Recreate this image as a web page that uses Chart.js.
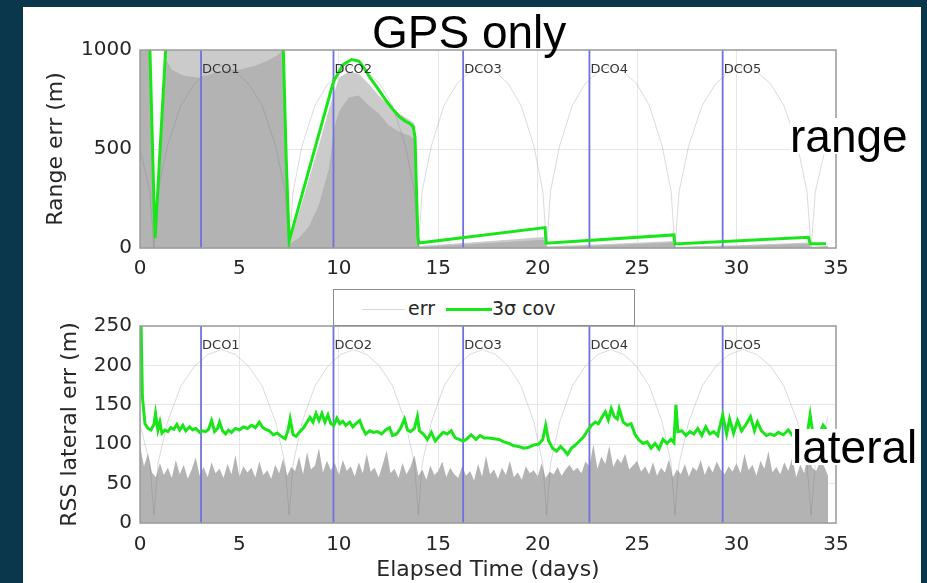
<!DOCTYPE html>
<html>
<head>
<meta charset="utf-8">
<script src="https://cdn.jsdelivr.net/npm/chart.js@4.4.1/dist/chart.umd.min.js"></script>
<style>
  html, body { margin: 0; padding: 0; }
  body { width: 927px; height: 583px; background: #0a374b; position: relative; overflow: hidden; font-family: "DejaVu Sans", sans-serif; }
  #panel { position: absolute; left: 23px; top: 7px; width: 898px; height: 576px; background: #fff; }
  canvas { position: absolute; left: 0; }
  #cRange { top: 0; }
  #cLat { top: 290px; }
  .big { position: absolute; font-family: "Liberation Sans", Arial, sans-serif; font-size: 46px; line-height: 36px; color: #000; white-space: nowrap; }
  #title { left: 372px; top: 14px; }
  #lblRange { left: 790px; top: 118px; background: #fff; }
  #lblLat { left: 792px; top: 429px; background: #fff; }
  #legend { position: absolute; left: 333px; top: 289px; width: 300px; height: 35px; border: 1px solid #8c8c8c; background: #fff; }
  #legend .ln { position: absolute; top: 19px; height: 0; }
  #legend .tx { position: absolute; top: 8px; font-size: 19px; line-height: 20px; color: #262626; }
</style>
</head>
<body>
<div id="panel"></div>
<canvas id="cRange" width="927" height="290"></canvas>
<canvas id="cLat" width="927" height="293"></canvas>
<div id="legend">
  <div class="ln" style="left:28px;width:43px;border-top:1px solid #d6d6d6"></div>
  <div class="tx" style="left:74px">err</div>
  <div class="ln" style="left:112px;width:46px;border-top:3px solid #19e619;top:18px"></div>
  <div class="tx" style="left:158px">3σ cov</div>
</div>
<div class="big" id="title">GPS only</div>
<div class="big" id="lblRange">range</div>
<div class="big" id="lblLat">lateral</div>
<script>
// DCO manoeuvres (days)
const dcoDays = [3.07, 9.73, 16.25, 22.6, 29.3];
const dcoLabels = ['DCO1', 'DCO2', 'DCO3', 'DCO4', 'DCO5'];

// range: 3 sigma covariance
const rangeCovT = [0.45, 0.6, 0.7, 0.76, 0.85, 1.0, 1.15, 1.35, 1.36, 7.14, 7.15, 7.25, 7.35, 7.5, 9.73, 10.2, 10.64, 11.0, 11.3, 11.57, 12.0, 12.4, 12.8, 13.07, 13.35, 13.58, 13.74, 13.83, 13.9, 13.97, 14.02, 20.37, 20.42, 26.85, 26.9, 33.62, 33.7, 34.5];
const rangeCov  = [1190, 620, 240, 50, 211, 480, 750, 1108, null, null, 1220, 840, 460, 35, 840, 925, 952, 944, 905, 860, 800, 741, 690, 660, 640, 628, 612, 560, 300, 60, 25, 103, 24, 66, 20, 54, 21, 22];

// range: error traces (dense core and sparse outer envelope)
const rangeCoreT = [0, 0.45, 0.6, 0.7, 0.76, 0.85, 1.0, 1.15, 1.33, 1.6, 2.2, 3.0, 3.6, 4.4, 5.0, 5.8, 6.5, 7.0, 7.15, 7.25, 7.35, 7.5, 8.0, 8.5, 9.0, 9.5, 9.75, 10.0, 10.5, 11.0, 11.5, 12.0, 12.5, 13.0, 13.5, 13.8, 13.9, 13.97, 14.05, 17.0, 20.3, 20.42, 23.5, 26.85, 26.92, 30.0, 33.6, 33.72, 34.6];
const rangeCore  = [1000, 1000, 590, 210, 30, 190, 450, 720, 950, 900, 870, 860, 880, 900, 900, 920, 950, 980, 1000, 800, 420, 20, 50, 110, 220, 400, 600, 690, 760, 770, 720, 680, 620, 590, 570, 550, 350, 40, 5, 22, 42, 5, 14, 28, 4, 10, 22, 4, 8];
const rangeOuterT = [0, 0.45, 0.6, 0.7, 0.76, 0.85, 1.0, 1.15, 1.33, 7.15, 7.25, 7.35, 7.5, 8.0, 8.5, 9.0, 9.5, 10.0, 10.5, 11.0, 11.5, 12.0, 12.5, 13.0, 13.5, 13.8, 13.9, 13.97, 14.05, 17.0, 20.3, 20.42, 23.5, 26.85, 26.92, 30.0, 33.6, 33.72, 34.6];
const rangeOuter  = [1000, 1000, 600, 220, 35, 200, 460, 730, 1000, 1000, 800, 420, 30, 180, 350, 520, 700, 860, 890, 880, 830, 770, 720, 680, 650, 630, 400, 50, 10, 30, 55, 8, 20, 35, 6, 14, 28, 6, 10];

// reference arcs (light grey traces)
const arcT = [0, 0.5, 0.7, 0.9, 1.38, 2.06, 2.74, 3.42, 4.1, 4.78, 5.46, 6.14, 6.82, 7.3, 7.5, 7.7, 8.15, 8.8, 9.45, 10.1, 10.75, 11.4, 12.05, 12.7, 13.35, 13.8, 14.0, 14.19, 14.65, 15.29, 15.94, 16.58, 17.23, 17.87, 18.52, 19.16, 19.81, 20.26, 20.45, 20.64, 21.1, 21.74, 22.39, 23.03, 23.68, 24.32, 24.97, 25.61, 26.26, 26.71, 26.9, 27.11, 27.59, 28.27, 28.96, 29.64, 30.33, 31.01, 31.7, 32.38, 33.07, 33.54, 33.75, 33.96, 34.6];
const arcRange = [500, 285, 0,
  285, 515, 720, 830, 890, 920, 890, 830, 720, 515, 285, 0,
  285, 515, 720, 830, 890, 920, 890, 830, 720, 515, 285, 0,
  285, 515, 720, 830, 890, 920, 890, 830, 720, 515, 285, 0,
  285, 515, 720, 830, 890, 920, 890, 830, 720, 515, 285, 0,
  285, 515, 720, 830, 890, 920, 890, 830, 720, 515, 285, 0,
  285, 560];
const arcLat = [125, 75, 10,
  75, 128, 174, 199, 214, 220, 214, 199, 174, 128, 75, 10,
  75, 128, 174, 199, 214, 220, 214, 199, 174, 128, 75, 10,
  75, 128, 174, 199, 214, 220, 214, 199, 174, 128, 75, 10,
  75, 128, 174, 199, 214, 220, 214, 199, 174, 128, 75, 10,
  75, 128, 174, 199, 214, 220, 214, 199, 174, 128, 75, 10,
  75, 135];

// lateral: 3 sigma covariance
const latCovT = [0.02, 0.12, 0.25, 0.4, 0.55, 0.7, 0.78, 0.9, 1.0, 1.1, 1.25, 1.4, 1.55, 1.7, 1.85, 2.0, 2.15, 2.3, 2.5, 2.65, 2.8, 3.0, 3.15, 3.3, 3.45, 3.6, 3.75, 3.9, 4.0, 4.15, 4.3, 4.45, 4.6, 4.8, 5.0, 5.2, 5.4, 5.6, 5.8, 6.0, 6.15, 6.3, 6.5, 6.7, 6.9, 7.1, 7.3, 7.45, 7.55, 7.7, 7.85, 8.0, 8.2, 8.4, 8.55, 8.7, 8.85, 9.0, 9.15, 9.3, 9.45, 9.6, 9.75, 9.9, 10.05, 10.2, 10.35, 10.55, 10.7, 10.9, 11.05, 11.2, 11.35, 11.55, 11.75, 11.95, 12.15, 12.35, 12.55, 12.7, 12.9, 13.1, 13.3, 13.45, 13.6, 13.8, 13.95, 14.05, 14.25, 14.45, 14.65, 14.85, 15.05, 15.25, 15.45, 15.65, 15.85, 16.05, 16.25, 16.45, 16.65, 16.9, 17.1, 17.3, 17.55, 17.8, 18.05, 18.3, 18.55, 18.8, 19.05, 19.3, 19.55, 19.8, 20.05, 20.25, 20.4, 20.55, 20.75, 20.95, 21.15, 21.35, 21.5, 21.7, 21.9, 22.1, 22.3, 22.5, 22.7, 22.9, 23.05, 23.2, 23.4, 23.55, 23.7, 23.85, 24.0, 24.1, 24.3, 24.5, 24.7, 24.9, 25.1, 25.3, 25.5, 25.7, 25.9, 26.1, 26.3, 26.5, 26.7, 26.85, 26.95, 27.05, 27.25, 27.45, 27.65, 27.85, 28.05, 28.25, 28.45, 28.65, 28.85, 29.05, 29.3, 29.5, 29.65, 29.85, 30.05, 30.25, 30.45, 30.7, 30.9, 31.05, 31.25, 31.5, 31.7, 31.9, 32.1, 32.35, 32.6, 32.85, 33.1, 33.35, 33.55, 33.7, 33.85, 34.05, 34.2, 34.35, 34.5];
const latCov = [300, 160, 126, 120, 118, 125, 139, 118, 128, 114, 118, 116, 121, 119, 125, 118, 124, 117, 122, 118, 120, 115, 117, 116, 119, 130, 116, 120, 128, 117, 113, 118, 115, 120, 118, 122, 120, 124, 121, 128, 122, 119, 117, 112, 114, 110, 107, 118, 132, 112, 110, 115, 120, 128, 134, 128, 139, 130, 139, 128, 137, 126, 124, 133, 126, 129, 124, 128, 122, 127, 130, 120, 113, 117, 115, 116, 113, 118, 121, 111, 113, 120, 132, 118, 116, 120, 135, 117, 113, 106, 115, 104, 110, 115, 113, 117, 108, 106, 104, 107, 112, 106, 111, 108, 108, 107, 106, 103, 101, 98, 97, 95, 96, 99, 100, 106, 124, 104, 95, 91, 97, 92, 87, 95, 99, 104, 109, 117, 124, 128, 126, 133, 141, 131, 145, 135, 132, 145, 128, 124, 126, 112, 105, 101, 103, 95, 101, 94, 106, 101, 106, 102, 150, 116, 117, 111, 116, 113, 120, 111, 122, 113, 116, 111, 137, 113, 132, 114, 130, 117, 124, 135, 117, 128, 117, 111, 113, 111, 115, 112, 118, 110, 113, 108, 112, 137, 111, 117, 115, 124, 119];

// lateral: RSS error, one sample every 0.2 days
const latErrStep = 0.2;
const latErr = [
  98, 72, 88, 64, 58, 76, 61, 70, 57, 80,
  62, 74, 56, 68, 83, 60, 71, 58, 77, 63,
  69, 57, 75, 62, 86, 59, 72, 64, 70, 58,
  78, 61, 67, 56, 74, 63, 82, 60, 71, 66,
  84, 62, 90, 68, 73, 95, 64, 79, 67, 76,
  61, 80, 66, 72, 59, 77, 63, 88, 65, 70,
  58, 74, 92, 63, 69, 57, 76, 62, 71, 86,
  60, 68, 55, 73, 61, 66, 78, 58, 70, 62,
  57, 72, 60, 66, 54, 75, 59, 85, 62, 68,
  56, 70, 61, 79, 58, 64, 55, 72, 63, 67,
  59, 76, 57, 65, 62, 71, 60, 68, 74, 66,
  70, 63, 78, 72, 100, 69, 84, 75, 98, 71,
  82, 76, 88, 68, 73, 79, 65, 72, 62, 77,
  60, 70, 64, 81, 58, 68, 62, 75, 59, 71,
  66, 80, 61, 73, 64, 78, 68, 62, 72, 65,
  76, 63, 88, 67, 74, 60, 79, 69, 91, 64,
  71, 62, 77, 66, 83, 58, 74, 63, 90, 70,
  66, 78, 72, 60];

const xyOf = (t, v) => t.map((x, i) => ({ x: x, y: v[i] }));

const tickFont = { family: 'DejaVu Sans', size: 20 };
const titleFont = { family: 'DejaVu Sans', size: 22 };

const boxAndDco = {
  id: 'boxAndDco',
  afterDatasetsDraw(chart) {
    const { ctx, chartArea: a, scales: { x } } = chart;
    ctx.save();
    ctx.font = '13px "DejaVu Sans"';
    ctx.fillStyle = '#333';
    ctx.textBaseline = 'middle';
    dcoDays.forEach((d, i) => ctx.fillText(dcoLabels[i], x.getPixelForValue(d) + 1, a.top + 20));
    ctx.strokeStyle = '#9c9c9c';
    ctx.lineWidth = 1.5;
    ctx.strokeRect(a.left, a.top, a.right - a.left, a.bottom - a.top);
    ctx.restore();
  }
};

function dcoSets(ymax) {
  return dcoDays.map(d => ({
    data: [{ x: d, y: 0 }, { x: d, y: ymax }],
    borderColor: '#7070e0', borderWidth: 1.8, order: 1
  }));
}

function errChart(id, o) {
  return new Chart(document.getElementById(id), {
    type: 'line',
    data: { datasets: o.datasets },
    options: {
      responsive: false,
      animation: false,
      devicePixelRatio: 1,
      layout: { padding: o.padding },
      plugins: { legend: { display: false }, tooltip: { enabled: false } },
      elements: { point: { radius: 0 }, line: { tension: 0 } },
      scales: {
        x: {
          type: 'linear', min: 0, max: 35,
          afterFit: s => { s.height = o.xh; },
          ticks: { stepSize: 5, padding: o.xpad, color: '#262626', font: tickFont },
          grid: { color: '#e6e6e6', drawTicks: false },
          border: { display: false },
          title: o.xTitle
        },
        y: {
          min: 0, max: o.ymax,
          afterFit: s => { s.width = 100; },
          ticks: { stepSize: o.ystep, padding: 8, color: '#262626', font: tickFont, callback: v => v },
          grid: { color: '#e6e6e6', drawTicks: false },
          border: { display: false },
          title: { display: true, text: o.yTitle, color: '#262626', font: titleFont, padding: { top: o.ytp, bottom: 0 } }
        }
      }
    },
    plugins: [boxAndDco]
  });
}

errChart('cRange', {
  padding: { left: 40, right: 91, top: 50, bottom: 0 },
  xh: 42, xpad: 9, ymax: 1000, ystep: 500, ytp: 3,
  yTitle: 'Range err (m)',
  xTitle: { display: false },
  datasets: [
    { data: xyOf(rangeCovT, rangeCov), borderColor: '#19e619', borderWidth: 3, order: 0 },
    ...dcoSets(1000),
    { data: xyOf(arcT, arcRange), borderColor: 'rgba(110,110,110,0.25)', borderWidth: 1, order: 2 },
    { data: xyOf(rangeCoreT, rangeCore), borderWidth: 0, borderColor: 'rgba(0,0,0,0)', backgroundColor: '#b3b3b3', fill: 'origin', order: 3 },
    { data: xyOf(rangeOuterT, rangeOuter), borderWidth: 0, borderColor: 'rgba(0,0,0,0)', backgroundColor: '#cbcbcb', fill: 'origin', order: 4 }
  ]
});

errChart('cLat', {
  padding: { left: 40, right: 91, top: 36, bottom: 0 },
  xh: 60, xpad: 10, ymax: 250, ystep: 50, ytp: 17,
  yTitle: 'RSS lateral err (m)',
  xTitle: { display: true, text: 'Elapsed Time (days)', color: '#262626', font: titleFont, padding: { top: 0, bottom: 0 } },
  datasets: [
    { data: xyOf(latCovT, latCov), borderColor: '#19e619', borderWidth: 3, order: 0 },
    ...dcoSets(250),
    { data: xyOf(arcT, arcLat), borderColor: 'rgba(110,110,110,0.25)', borderWidth: 1, order: 2 },
    { data: latErr.map((v, i) => ({ x: i * latErrStep, y: v })), borderWidth: 0, borderColor: 'rgba(0,0,0,0)', backgroundColor: '#b3b3b3', fill: 'origin', order: 3 }
  ]
});
</script>
</body>
</html>
